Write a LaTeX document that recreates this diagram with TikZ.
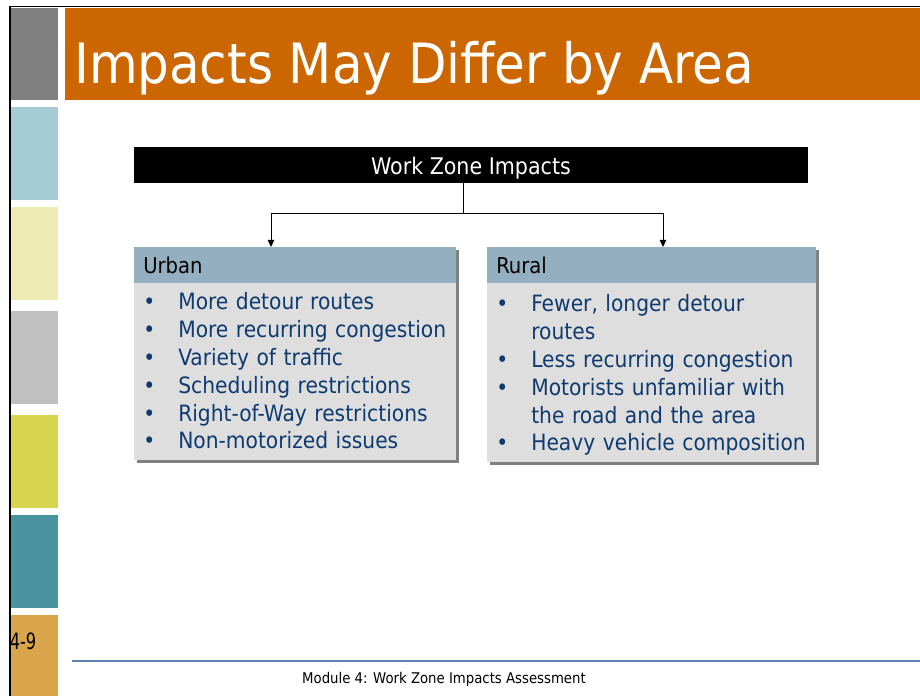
\documentclass[tikz,border=0pt]{standalone}
\usepackage{fontspec}
\setmainfont{DejaVu Sans Condensed}
\usetikzlibrary{arrows.meta,positioning,shadows}
\definecolor{banner}{HTML}{CC6600}
\definecolor{sgray}{HTML}{808080}
\definecolor{sblue}{HTML}{A5CBD4}
\definecolor{syellow}{HTML}{EEEBB4}
\definecolor{slgray}{HTML}{C0C0C0}
\definecolor{sgreen}{HTML}{D9D44D}
\definecolor{steal}{HTML}{4A949F}
\definecolor{sgold}{HTML}{D8A54A}
\definecolor{strip}{HTML}{93AFC0}
\definecolor{boxgray}{HTML}{DEDEDE}
\definecolor{listblue}{HTML}{0F3A6E}
\definecolor{footline}{HTML}{5A82AC}
\tikzset{
  areahead/.style={fill=strip, text=black, anchor=north west, minimum width=8.05cm, minimum height=0.9cm,
    inner xsep=0.225cm, text width=7.6cm, align=left, font=\fontsize{15.5}{18}\selectfont,
    drop shadow={shadow xshift=0.075cm, shadow yshift=-0.075cm, fill=gray, opacity=1}},
  areabody/.style={fill=boxgray, text=listblue, anchor=north west, minimum width=8.05cm,
    inner xsep=0.225cm, text width=7.6cm, align=left, font=\fontsize{16}{19.8}\selectfont,
    drop shadow={shadow xshift=0.075cm, shadow yshift=-0.075cm, fill=gray, opacity=1}},
}
\begin{document}
\begin{tikzpicture}[x=0.025cm, y=-0.025cm, >={Triangle[length=5pt,width=4.5pt]}, line join=round]
  \useasboundingbox (0,0) rectangle (920,696);
  % side strip and frame
  \foreach \c/\ya/\yb in {sgray/8/100, sblue/107/200, syellow/207/300, slgray/311/404, sgreen/415/508, steal/515/608, sgold/615/696}
    \fill[\c] (11,\ya) rectangle (58,\yb);
  \fill (9,6) rectangle (920,7.5);
  \fill (9,6) rectangle (11,696);
  \fill[banner] (65,8) rectangle (920,100);
  \node[anchor=base west, inner sep=0, text=white, font=\fontsize{39.5}{44}\selectfont] (title) at (74,83) {Impacts May Differ by Area};
  \node[xscale=0.8, inner sep=0, font=\fontsize{16}{16}\selectfont] (pagenum) at (23,641) {4-9};

  \node[fill=black, text=white, minimum width=16.85cm, minimum height=0.9cm, font=\fontsize{16.3}{18}\selectfont] (impacts) at (471,165) {\raisebox{-0.09cm}[\height][\depth]{Work Zone Impacts}};

  \node[areahead] (urban) at (134,247) {Urban};
  \node[areabody, minimum height=4.425cm] (urbanlist) at (134,283) {\raisebox{-0.05cm}[\height][\depth]{%
    \begin{tabular}{@{}p{0.875cm}@{}l@{}}
      \textbullet & More detour routes\\
      \textbullet & More recurring congestion\\
      \textbullet & Variety of traffic\\
      \textbullet & Scheduling restrictions\\
      \textbullet & Right-of-Way restrictions\\
      \textbullet & Non-motorized issues
    \end{tabular}}};
  \node[areahead, minimum width=8.225cm, text width=7.775cm] (rural) at (487,247) {Rural};
  \node[areabody, minimum width=8.225cm, text width=7.775cm, minimum height=4.475cm] (rurallist) at (487,283) {\raisebox{-0.075cm}[\height][\depth]{%
    \begin{tabular}{@{}p{0.875cm}@{}l@{}}
      \textbullet & Fewer, longer detour\\
                  & routes\\
      \textbullet & Less recurring congestion\\
      \textbullet & Motorists unfamiliar with\\
                  & the road and the area\\
      \textbullet & Heavy vehicle composition
    \end{tabular}}};

  \coordinate (fork) at (463,213);
  \coordinate (ua) at (271,0);
  \coordinate (ra) at (663,0);
  \draw[line width=0.7pt] (impacts.south -| fork) -- (fork);
  \draw[->, line width=0.7pt] (fork) -| (urban.north -| ua);
  \draw[->, line width=0.7pt] (fork) -| (rural.north -| ra);

  \draw[footline, line width=1.2pt] (72,661) -- (920,661);
  \node[font=\fontsize{10.5}{12}\selectfont] (footer) at (444,679) {Module 4: Work Zone Impacts Assessment};
\end{tikzpicture}
\end{document}
